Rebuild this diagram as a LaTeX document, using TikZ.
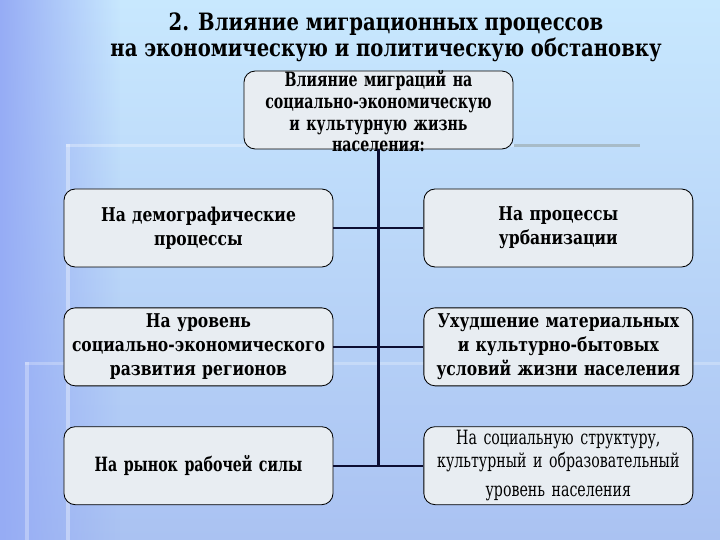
\documentclass[tikz,border=0pt]{standalone}
\usepackage{fontspec}
\setmainfont{DejaVu Serif}[FakeStretch=0.82]
\newfontfamily\narrowfont{DejaVu Serif}[FakeStretch=0.72]
\usepackage{tikz}
\usetikzlibrary{positioning, fadings}
\definecolor{bgtop}{RGB}{200, 232, 254}
\definecolor{bgbot}{RGB}{170, 194, 242}
\definecolor{bgleft}{RGB}{150, 172, 245}
\definecolor{boxfill}{RGB}{232, 237, 242}
\definecolor{connnavy}{RGB}{12, 14, 50}
\definecolor{bargray}{RGB}{168, 188, 200}

\begin{document}
\begin{tikzpicture}[
  node distance=1cm and 2.25cm,
  box/.style={
    draw=black, fill=boxfill, rounded corners=8pt, line width=0.6pt,
    text width=6.5cm, align=center, minimum width=6.725cm,
    minimum height=1.95cm, inner sep=2pt,
    font=\bfseries\fontsize{13.5}{17}\selectfont
  },
  conn/.style={draw=connnavy, line width=1.5pt}
]
  \useasboundingbox (0,0) rectangle (18,13.5);

  % Fond
  \shade[top color=bgtop, bottom color=bgbot] (0,0) rectangle (18,13.5);
  \fill[bgleft, path fading=east] (0,0) rectangle (3,13.5);
  \fill[white, opacity=0.35] (1.65,0) rectangle (1.75,9.9);
  \fill[white, opacity=0.3] (1.65,9.9) rectangle (12.85,9.82);
  \fill[bargray] (12.85,9.9) rectangle (16,9.82);
  \fill[white, opacity=0.3] (0.62,0) rectangle (0.72,4.45);
  \fill[white, opacity=0.25] (0.62,4.45) rectangle (18,4.37);

  % Titre
  \node[font=\bfseries\fontsize{17}{18.5}\selectfont, align=center] (title) at (9.65,12.58)
    {2. Влияние миграционных процессов\\на экономическую и политическую обстановку};

  % Bloc central
  \node[box, font=\narrowfont\bfseries\fontsize{14}{15.6}\selectfont,
    text height=0.38cm, text depth=1.57cm, inner ysep=0pt] (top) at (9.4625,10.75)
    {Влияние миграций на\\социально-экономическую\\и культурную жизнь\\населения:};

  % Colonne gauche
  \node[box] (demo) at (4.9625,7.8) {На демографические\\процессы};
  \node[box, below=of demo] (level) {На уровень\\социально-экономического\\развития регионов};
  \node[box, below=of level, font=\narrowfont\bfseries\fontsize{14}{17}\selectfont] (market) {На рынок рабочей силы};

  % Colonne droite
  \node[box, right=of demo] (urban) {На процессы\\урбанизации};
  \node[box, right=of level] (worse) {Ухудшение материальных\\и культурно-бытовых\\условий жизни населения};
  \node[box, right=of market, font=\narrowfont\fontsize{14}{16}\selectfont] (social)
    {На социальную структуру,\\культурный и образовательный\\[5pt]уровень населения};

  % Liaisons
  \draw[conn] (top.south) -- (top.south |- market.east);
  \draw[conn] (demo) -- (urban);
  \draw[conn] (level) -- (worse);
  \draw[conn] (market) -- (social);

\end{tikzpicture}
\end{document}
